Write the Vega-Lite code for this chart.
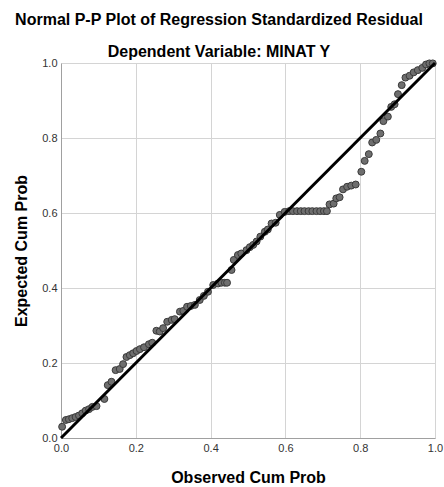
{
  "$schema": "https://vega.github.io/schema/vega-lite/v6.json",
  "autosize": "none",
  "width": 374,
  "height": 375,
  "padding": {"left": 61, "top": 63, "right": 9, "bottom": 49},
  "background": "white",
  "config": {
    "font": "Liberation Sans",
    "view": {"stroke": null},
    "axis": {
      "gridColor": "#d4d4d4",
      "gridWidth": 1,
      "domainColor": "#a0a0a0",
      "ticks": false,
      "tickSize": 0,
      "labelFlush": false,
      "labelFontSize": 11,
      "labelColor": "#333333",
      "titleFontSize": 16,
      "titleFontWeight": "bold",
      "titleColor": "#000000"
    }
  },
  "title": {
    "text": "Normal P-P Plot of Regression Standardized Residual",
    "subtitle": "Dependent Variable: MINAT Y",
    "fontSize": 16,
    "fontWeight": "bold",
    "color": "#000000",
    "subtitleFontSize": 16,
    "subtitleFontWeight": "bold",
    "subtitleColor": "#000000",
    "subtitlePadding": 16.5,
    "anchor": "middle",
    "dx": -29,
    "offset": -3
  },
  "datasets": {
    "pts": [
      {"obs": 0.003, "exp": 0.030},
      {"obs": 0.013, "exp": 0.048},
      {"obs": 0.021, "exp": 0.050},
      {"obs": 0.030, "exp": 0.053},
      {"obs": 0.039, "exp": 0.056},
      {"obs": 0.048, "exp": 0.060},
      {"obs": 0.057, "exp": 0.066},
      {"obs": 0.066, "exp": 0.073},
      {"obs": 0.075, "exp": 0.077},
      {"obs": 0.084, "exp": 0.083},
      {"obs": 0.095, "exp": 0.085},
      {"obs": 0.116, "exp": 0.104},
      {"obs": 0.125, "exp": 0.141},
      {"obs": 0.135, "exp": 0.150},
      {"obs": 0.146, "exp": 0.181},
      {"obs": 0.157, "exp": 0.184},
      {"obs": 0.166, "exp": 0.197},
      {"obs": 0.175, "exp": 0.216},
      {"obs": 0.184, "exp": 0.221},
      {"obs": 0.193, "exp": 0.226},
      {"obs": 0.202, "exp": 0.232},
      {"obs": 0.211, "exp": 0.237},
      {"obs": 0.222, "exp": 0.242},
      {"obs": 0.235, "exp": 0.250},
      {"obs": 0.244, "exp": 0.254},
      {"obs": 0.255, "exp": 0.286},
      {"obs": 0.264, "exp": 0.284},
      {"obs": 0.273, "exp": 0.293},
      {"obs": 0.284, "exp": 0.310},
      {"obs": 0.296, "exp": 0.315},
      {"obs": 0.304, "exp": 0.317},
      {"obs": 0.318, "exp": 0.337},
      {"obs": 0.327, "exp": 0.339},
      {"obs": 0.337, "exp": 0.350},
      {"obs": 0.347, "exp": 0.352},
      {"obs": 0.358, "exp": 0.355},
      {"obs": 0.371, "exp": 0.368},
      {"obs": 0.382, "exp": 0.379},
      {"obs": 0.393, "exp": 0.390},
      {"obs": 0.407, "exp": 0.408},
      {"obs": 0.420, "exp": 0.412},
      {"obs": 0.429, "exp": 0.414},
      {"obs": 0.438, "exp": 0.414},
      {"obs": 0.444, "exp": 0.414},
      {"obs": 0.456, "exp": 0.448},
      {"obs": 0.462, "exp": 0.475},
      {"obs": 0.473, "exp": 0.488},
      {"obs": 0.482, "exp": 0.492},
      {"obs": 0.496, "exp": 0.501},
      {"obs": 0.505, "exp": 0.509},
      {"obs": 0.514, "exp": 0.515},
      {"obs": 0.523, "exp": 0.524},
      {"obs": 0.533, "exp": 0.537},
      {"obs": 0.545, "exp": 0.550},
      {"obs": 0.553, "exp": 0.556},
      {"obs": 0.563, "exp": 0.572},
      {"obs": 0.574, "exp": 0.574},
      {"obs": 0.585, "exp": 0.595},
      {"obs": 0.598, "exp": 0.603},
      {"obs": 0.610, "exp": 0.605},
      {"obs": 0.620, "exp": 0.605},
      {"obs": 0.631, "exp": 0.605},
      {"obs": 0.641, "exp": 0.605},
      {"obs": 0.651, "exp": 0.605},
      {"obs": 0.662, "exp": 0.605},
      {"obs": 0.672, "exp": 0.605},
      {"obs": 0.683, "exp": 0.605},
      {"obs": 0.693, "exp": 0.605},
      {"obs": 0.703, "exp": 0.605},
      {"obs": 0.711, "exp": 0.605},
      {"obs": 0.718, "exp": 0.623},
      {"obs": 0.729, "exp": 0.625},
      {"obs": 0.736, "exp": 0.639},
      {"obs": 0.745, "exp": 0.642},
      {"obs": 0.754, "exp": 0.663},
      {"obs": 0.765, "exp": 0.670},
      {"obs": 0.776, "exp": 0.673},
      {"obs": 0.788, "exp": 0.676},
      {"obs": 0.803, "exp": 0.710},
      {"obs": 0.812, "exp": 0.739},
      {"obs": 0.823, "exp": 0.757},
      {"obs": 0.832, "exp": 0.788},
      {"obs": 0.843, "exp": 0.795},
      {"obs": 0.854, "exp": 0.812},
      {"obs": 0.862, "exp": 0.845},
      {"obs": 0.874, "exp": 0.857},
      {"obs": 0.883, "exp": 0.883},
      {"obs": 0.892, "exp": 0.890},
      {"obs": 0.901, "exp": 0.917},
      {"obs": 0.911, "exp": 0.941},
      {"obs": 0.921, "exp": 0.961},
      {"obs": 0.932, "exp": 0.966},
      {"obs": 0.943, "exp": 0.975},
      {"obs": 0.954, "exp": 0.981},
      {"obs": 0.966, "exp": 0.987},
      {"obs": 0.976, "exp": 0.996},
      {"obs": 0.985, "exp": 0.999},
      {"obs": 0.994, "exp": 0.999}
    ],
    "ref": [
      {"obs": 0, "exp": 0},
      {"obs": 1, "exp": 1}
    ]
  },
  "layer": [
    {
      "data": {"name": "pts"},
      "mark": {"type": "point", "shape": "circle", "filled": true, "size": 48, "fill": "#6e6e6e", "stroke": "#3a3a3a", "strokeWidth": 1, "opacity": 1},
      "encoding": {
        "x": {"field": "obs", "type": "quantitative", "scale": {"domain": [0, 1], "nice": false}, "axis": {"title": "Observed Cum Prob", "values": [0, 0.2, 0.4, 0.6, 0.8, 1.0], "format": ".1f", "labelPadding": 4, "titlePadding": 16}},
        "y": {"field": "exp", "type": "quantitative", "scale": {"domain": [0, 1], "nice": false}, "axis": {"title": "Expected Cum Prob", "values": [0, 0.2, 0.4, 0.6, 0.8, 1.0], "format": ".1f", "labelPadding": 4, "titlePadding": 12}}
      }
    },
    {
      "data": {"name": "ref"},
      "mark": {"type": "line", "color": "#000000", "strokeWidth": 3},
      "encoding": {
        "x": {"field": "obs", "type": "quantitative"},
        "y": {"field": "exp", "type": "quantitative"}
      }
    }
  ]
}
